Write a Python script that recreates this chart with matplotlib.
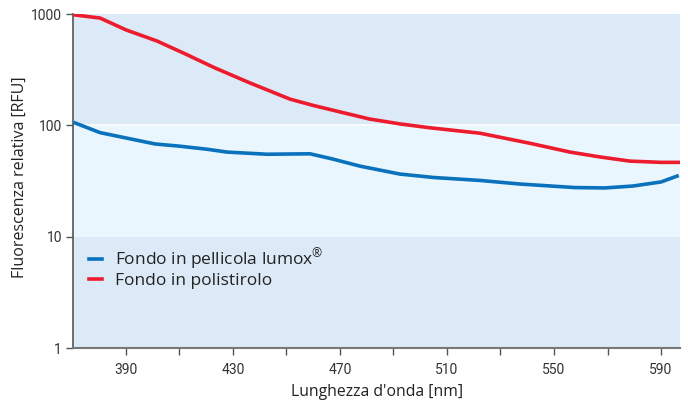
import matplotlib
matplotlib.use("Agg")
import matplotlib.pyplot as plt
from matplotlib import font_manager

# Data
blue_x = [371, 380.3, 390, 400.9, 410, 420.3, 427.8, 442.7, 458.8, 467, 477.5, 492.4, 505, 522.3, 537.3, 557.9, 569.1, 579.5, 590, 596]
blue_y = [105, 86, 77, 68, 65, 61, 57.5, 55, 55.5, 50, 43, 36.5, 34, 32, 29.7, 27.6, 27.4, 28.5, 31, 35]
red_x = [371, 380.3, 390, 401.6, 412, 423, 436.4, 451.3, 459.5, 470, 481, 492.4, 503.7, 522.3, 541, 556, 567.2, 578.4, 590, 597]
red_y = [980, 920, 720, 572, 440, 330, 240, 172, 152, 132, 114, 103, 95, 85, 69, 57.5, 52, 47.7, 46.5, 46.5]
series_labels = ["Fondo in pellicola lumox$^{\u00ae}$", "Fondo in polistirolo"]
xticks = [390, 430, 470, 510, 550, 590]
yticks = [1, 10, 100, 1000]
ytick_labels = ["1", "10", "100", "1000"]

names = {f.name for f in font_manager.fontManager.ttflist}
tick_font = "Liberation Sans Narrow" if "Liberation Sans Narrow" in names else "Roboto"

plt.rcParams['font.family'] = ['Open Sans', 'DejaVu Sans']
plt.rcParams['mathtext.fontset'] = 'custom'
plt.rcParams['mathtext.rm'] = 'Open Sans'

fig = plt.figure(figsize=(6.88, 4.05), dpi=100)
ax = fig.add_axes([73/688, 57/405, 607/688, 334/405])

ax.set_yscale('log')
ax.set_xlim(370.2, 597.1)
ax.set_ylim(1, 1000)

outer = '#dbeaf6'
inner = '#eaf6fd'
ax.axhspan(1, 10, color=outer, lw=0, zorder=0)
ax.axhspan(10, 100, color=inner, lw=0, zorder=0)
ax.axhspan(100, 1000, color=outer, lw=0, zorder=0)
ax.axhline(100, color='white', lw=1.2, zorder=0.5)

ax.plot(blue_x, blue_y, color='#0a72bd', lw=2.6, label=series_labels[0], zorder=3)
ax.plot(red_x, red_y, color='#ec1c2e', lw=2.6, label=series_labels[1], zorder=3)

for s in ['top', 'right']:
    ax.spines[s].set_visible(False)
ax.spines['left'].set_color('#555555')
ax.spines['left'].set_linewidth(1.2)
ax.spines['bottom'].set_color('#777777')
ax.spines['bottom'].set_linewidth(1.5)

ax.set_xticks(xticks)
ax.set_xticks([410, 450, 490, 530, 570], minor=True)
ax.set_yticks(yticks)
ax.set_yticklabels(ytick_labels)
ax.yaxis.set_minor_locator(matplotlib.ticker.NullLocator())
ax.tick_params(axis='x', which='both', direction='out', length=5, width=1, color='#555555', pad=6)
ax.tick_params(axis='y', direction='out', length=5, width=1, color='#555555', pad=3)
for lab in ax.get_xticklabels() + ax.get_yticklabels():
    lab.set_fontfamily(tick_font)
    lab.set_fontsize(10)
    lab.set_color('#333333')
    lab.set_fontstretch('condensed')

fig.text(377/688, 1 - 392/405, "Lunghezza d'onda [nm]", fontsize=11.3, color='#222222',
         ha='center', va='center')
fig.text(20/688, 1 - 177/405, "Fluorescenza relativa [RFU]", fontsize=11.5, color='#222222',
         ha='center', va='center', rotation=90)

leg = ax.legend(loc='upper left', bbox_to_anchor=(0.0, 0.352), frameon=False,
                fontsize=12.5, handlelength=0.75, handletextpad=0.75, labelspacing=0.0,
                borderaxespad=0.5)
for t in leg.get_texts():
    t.set_color('#222222')

fig.savefig('out.png', dpi=100)
